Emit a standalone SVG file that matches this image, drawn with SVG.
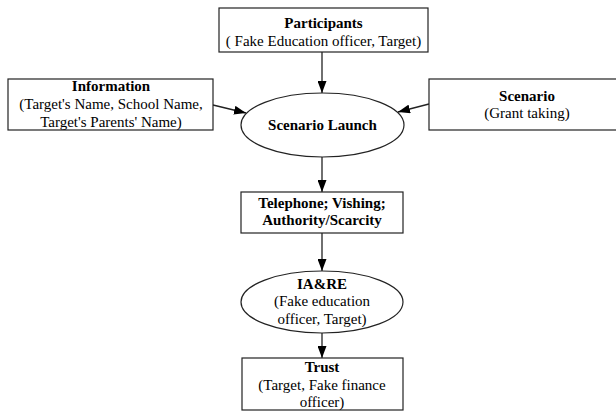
<svg xmlns="http://www.w3.org/2000/svg" width="616" height="411" viewBox="0 0 616 411">
  <defs>
    <marker id="arrow" viewBox="0 0 12 9" refX="12" refY="4.5" markerWidth="12" markerHeight="9" markerUnits="userSpaceOnUse" orient="auto">
      <path d="M0,0 L12,4.5 L0,9 Z" fill="#000"/>
    </marker>
  </defs>
  <style>
    .box { fill: #fff; stroke: #222; stroke-width: 1.2; }
    .edge { fill: none; stroke: #222; stroke-width: 1.3; marker-end: url(#arrow); }
    text { font-family: "Liberation Serif", "Times New Roman", serif; font-size: 15px; fill: #000; text-anchor: middle; }
    .b { font-weight: bold; }
  </style>
  <rect width="616" height="411" fill="#fff"/>

  <g id="edges">
    <line class="edge" x1="322" y1="52" x2="322" y2="93"/>
    <line class="edge" x1="213" y1="105" x2="246" y2="113"/>
    <line class="edge" x1="429" y1="104" x2="398" y2="112"/>
    <line class="edge" x1="322" y1="157" x2="322" y2="192"/>
    <line class="edge" x1="322" y1="233" x2="322" y2="271"/>
    <line class="edge" x1="322" y1="333" x2="322" y2="358"/>
  </g>

  <g id="participants">
    <rect class="box" x="219" y="8" width="209" height="44"/>
    <text class="b" x="323.5" y="28">Participants</text>
    <text x="323.5" y="45.5">( Fake Education officer, Target)</text>
  </g>

  <g id="information">
    <rect class="box" x="8" y="79" width="205" height="51"/>
    <text class="b" x="111" y="91">Information</text>
    <text x="111" y="109">(Target's Name, School Name,</text>
    <text x="111" y="126.5">Target's Parents' Name)</text>
  </g>

  <g id="scenario">
    <rect class="box" x="429" y="79" width="196" height="51"/>
    <text class="b" x="527" y="101">Scenario</text>
    <text x="527" y="118">(Grant taking)</text>
  </g>

  <g id="scenario-launch">
    <ellipse class="box" cx="322.5" cy="125" rx="81.5" ry="32"/>
    <text class="b" x="322.5" y="130">Scenario Launch</text>
  </g>

  <g id="channel">
    <rect class="box" x="241" y="192" width="162" height="41"/>
    <text class="b" x="322" y="208">Telephone; Vishing;</text>
    <text class="b" x="322" y="225">Authority/Scarcity</text>
  </g>

  <g id="iare">
    <ellipse class="box" cx="322" cy="302" rx="81" ry="31"/>
    <text class="b" x="322" y="288.5">IA&amp;RE</text>
    <text x="322" y="306">(Fake education</text>
    <text x="322" y="323.5">officer, Target)</text>
  </g>

  <g id="trust">
    <rect class="box" x="242" y="358" width="161" height="52"/>
    <text class="b" x="322" y="372">Trust</text>
    <text x="322" y="389.5">(Target, Fake finance</text>
    <text x="322" y="407">officer)</text>
  </g>
</svg>
